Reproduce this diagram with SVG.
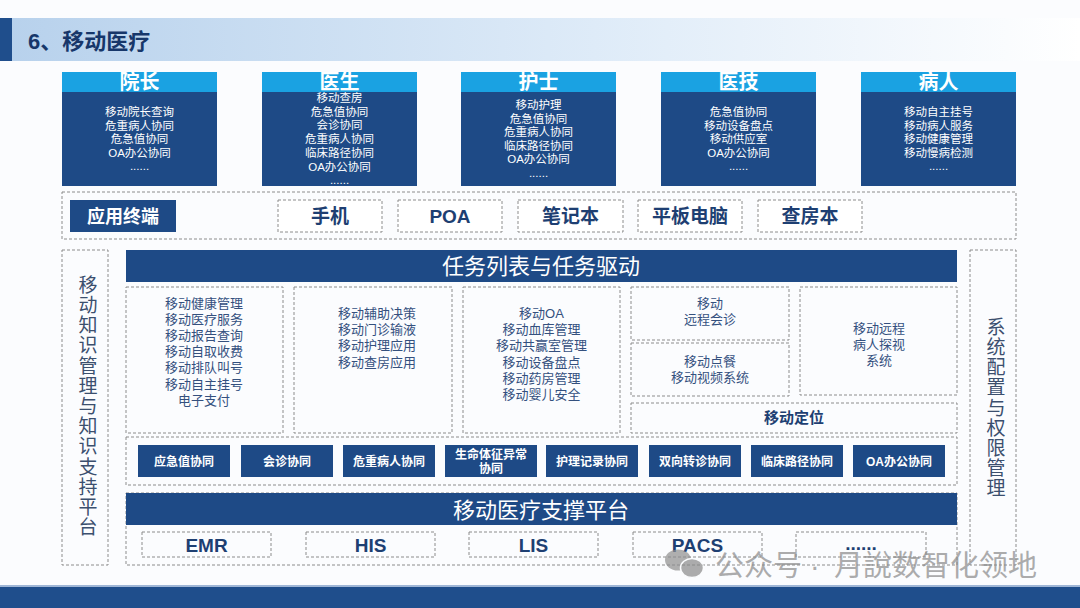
<svg xmlns="http://www.w3.org/2000/svg" width="1080" height="608" viewBox="0 0 1080 608">
<defs>
<linearGradient id="hdr" x1="0" y1="0" x2="1" y2="0">
<stop offset="0" stop-color="#b7d1ec"/>
<stop offset="0.55" stop-color="#deebf8"/>
<stop offset="1" stop-color="#ffffff"/>
</linearGradient>
</defs>
<style>
text{font-family:"Liberation Sans","Noto Sans CJK SC",sans-serif;}
.dash{fill:none;stroke:#8c8c8c;stroke-width:1;stroke-dasharray:3 2;}
.dashw{fill:#ffffff;stroke:#8c8c8c;stroke-width:1;stroke-dasharray:3 2;}
.navy{fill:#1e4a86;}
.cyan{fill:#1aa2e2;}
.role{fill:#ffffff;font-size:20px;font-weight:700;text-anchor:middle;}
.rl{fill:#ffffff;font-size:11.5px;text-anchor:middle;}
.term{fill:#1e3f72;font-size:19px;font-weight:700;text-anchor:middle;}
.mod{fill:#34507e;font-size:13px;text-anchor:middle;}
.ban{fill:#ffffff;font-size:22px;text-anchor:middle;}
.btn{fill:#ffffff;font-size:12px;font-weight:700;text-anchor:middle;}
.vert{fill:#3b4f6e;font-size:19px;writing-mode:vertical-rl;letter-spacing:1.2px;}
.sys{fill:#1e3f72;font-size:19px;font-weight:700;text-anchor:middle;}
</style>
<rect x="0" y="0" width="1080" height="608" fill="#fbfcfe"/>
<!-- header -->
<rect x="0" y="18" width="1080" height="43" fill="url(#hdr)"/>
<rect x="0" y="18" width="12" height="43" fill="#1f4e8c"/>
<text x="28" y="49" font-size="22" font-weight="700" fill="#17376a">6、移动医疗</text>
<!-- footer -->
<rect x="0" y="585" width="1080" height="2" fill="#9fb6d6"/>
<rect x="0" y="587" width="1080" height="21" fill="#1f4e8c"/>

<g id="role-yuanzhang">
<rect x="62" y="72" width="155" height="114" class="navy"/>
<rect x="62" y="72" width="155" height="20" class="cyan"/>
<text x="139.5" y="89" class="role">院长</text>
<text x="139.5" y="116" class="rl">移动院长查询</text>
<text x="139.5" y="129.5" class="rl">危重病人协同</text>
<text x="139.5" y="143" class="rl">危急值协同</text>
<text x="139.5" y="156.5" class="rl">OA办公协同</text>
<text x="139.5" y="170" class="rl">......</text>
</g>
<g id="role-yisheng">
<rect x="262" y="72" width="155" height="114" class="navy"/>
<rect x="262" y="72" width="155" height="20" class="cyan"/>
<text x="339.5" y="89" class="role">医生</text>
<text x="339.5" y="102" class="rl">移动查房</text>
<text x="339.5" y="115.7" class="rl">危急值协同</text>
<text x="339.5" y="129.4" class="rl">会诊协同</text>
<text x="339.5" y="143.1" class="rl">危重病人协同</text>
<text x="339.5" y="156.8" class="rl">临床路径协同</text>
<text x="339.5" y="170.5" class="rl">OA办公协同</text>
<text x="339.5" y="184" class="rl">......</text>
</g>
<g id="role-hushi">
<rect x="461" y="72" width="155" height="114" class="navy"/>
<rect x="461" y="72" width="155" height="20" class="cyan"/>
<text x="538.5" y="89" class="role">护士</text>
<text x="538.5" y="109" class="rl">移动护理</text>
<text x="538.5" y="122.5" class="rl">危急值协同</text>
<text x="538.5" y="136" class="rl">危重病人协同</text>
<text x="538.5" y="149.5" class="rl">临床路径协同</text>
<text x="538.5" y="163" class="rl">OA办公协同</text>
<text x="538.5" y="176.5" class="rl">......</text>
</g>
<g id="role-yiji">
<rect x="661" y="72" width="155" height="114" class="navy"/>
<rect x="661" y="72" width="155" height="20" class="cyan"/>
<text x="738.5" y="89" class="role">医技</text>
<text x="738.5" y="116" class="rl">危急值协同</text>
<text x="738.5" y="129.5" class="rl">移动设备盘点</text>
<text x="738.5" y="143" class="rl">移动供应室</text>
<text x="738.5" y="156.5" class="rl">OA办公协同</text>
<text x="738.5" y="170" class="rl">......</text>
</g>
<g id="role-bingren">
<rect x="861" y="72" width="155" height="114" class="navy"/>
<rect x="861" y="72" width="155" height="20" class="cyan"/>
<text x="938.5" y="89" class="role">病人</text>
<text x="938.5" y="116" class="rl">移动自主挂号</text>
<text x="938.5" y="129.5" class="rl">移动病人服务</text>
<text x="938.5" y="143" class="rl">移动健康管理</text>
<text x="938.5" y="156.5" class="rl">移动慢病检测</text>
<text x="938.5" y="170" class="rl">......</text>
</g>

<g id="terminals">
<rect x="62" y="192" width="954" height="47" class="dash"/>
<rect x="70" y="200" width="106" height="32" class="navy"/>
<text x="123" y="223" font-size="18" font-weight="700" fill="#ffffff" text-anchor="middle">应用终端</text>
<rect x="278" y="200" width="104" height="32" class="dashw"/>
<text x="330" y="223" class="term">手机</text>
<rect x="398" y="200" width="104" height="32" class="dashw"/>
<text x="450" y="223" class="term">POA</text>
<rect x="518" y="200" width="105" height="32" class="dashw"/>
<text x="570.5" y="223" class="term">笔记本</text>
<rect x="638" y="200" width="104" height="32" class="dashw"/>
<text x="690" y="223" class="term">平板电脑</text>
<rect x="758" y="200" width="104" height="32" class="dashw"/>
<text x="810" y="223" class="term">查房本</text>
</g>

<g id="knowledge-platform">
<rect x="62" y="250" width="46" height="315" class="dash"/>
<text x="86" y="275" class="vert">移动知识管理与知识支持平台</text>
</g>
<g id="system-config">
<rect x="970" y="250" width="46" height="315" class="dash"/>
<text x="994" y="317" class="vert">系统配置与权限管理</text>
</g>

<g id="task-banner">
<rect x="126" y="250" width="831" height="32" class="navy"/>
<text x="541" y="274" class="ban">任务列表与任务驱动</text>
</g>

<g id="mod1">
<rect x="126" y="287" width="157" height="146" class="dash"/>
<text x="204" y="307.5" class="mod">移动健康管理</text>
<text x="204" y="323.7" class="mod">移动医疗服务</text>
<text x="204" y="339.9" class="mod">移动报告查询</text>
<text x="204" y="356.1" class="mod">移动自取收费</text>
<text x="204" y="372.3" class="mod">移动排队叫号</text>
<text x="204" y="388.5" class="mod">移动自主挂号</text>
<text x="204" y="404.7" class="mod">电子支付</text>
</g>
<g id="mod2">
<rect x="294" y="287" width="158" height="146" class="dash"/>
<text x="377" y="318" class="mod">移动辅助决策</text>
<text x="377" y="334.2" class="mod">移动门诊输液</text>
<text x="377" y="350.4" class="mod">移动护理应用</text>
<text x="377" y="366.6" class="mod">移动查房应用</text>
</g>
<g id="mod3">
<rect x="463" y="287" width="157" height="146" class="dash"/>
<text x="541.5" y="318" class="mod">移动OA</text>
<text x="541.5" y="334.2" class="mod">移动血库管理</text>
<text x="541.5" y="350.4" class="mod">移动共赢室管理</text>
<text x="541.5" y="366.6" class="mod">移动设备盘点</text>
<text x="541.5" y="382.8" class="mod">移动药房管理</text>
<text x="541.5" y="399" class="mod">移动婴儿安全</text>
</g>
<g id="mod4a">
<rect x="631" y="287" width="158" height="53" class="dash"/>
<text x="710" y="307.5" class="mod">移动</text>
<text x="710" y="323.7" class="mod">远程会诊</text>
</g>
<g id="mod4b">
<rect x="631" y="343" width="158" height="53" class="dash"/>
<text x="710" y="366" class="mod">移动点餐</text>
<text x="710" y="382.2" class="mod">移动视频系统</text>
</g>
<g id="mod5">
<rect x="800" y="287" width="157" height="108" class="dash"/>
<text x="879" y="333" class="mod">移动远程</text>
<text x="879" y="349.2" class="mod">病人探视</text>
<text x="879" y="365.4" class="mod">系统</text>
</g>
<g id="mod-locate">
<rect x="631" y="403" width="326" height="30" class="dash"/>
<text x="794" y="423" font-size="15" font-weight="700" fill="#1e3f72" text-anchor="middle">移动定位</text>
</g>

<g id="collab">
<rect x="126" y="437" width="831" height="48" class="dash"/>
<rect x="138" y="445" width="92" height="32" class="navy"/>
<text x="184" y="465.5" class="btn">应急值协同</text>
<rect x="241" y="445" width="92" height="32" class="navy"/>
<text x="287" y="465.5" class="btn">会诊协同</text>
<rect x="343" y="445" width="92" height="32" class="navy"/>
<text x="389" y="465.5" class="btn">危重病人协同</text>
<rect x="445" y="445" width="92" height="32" class="navy"/>
<text x="491" y="459" class="btn">生命体征异常</text>
<text x="491" y="473" class="btn">协同</text>
<rect x="546" y="445" width="92" height="32" class="navy"/>
<text x="592" y="465.5" class="btn">护理记录协同</text>
<rect x="649" y="445" width="92" height="32" class="navy"/>
<text x="695" y="465.5" class="btn">双向转诊协同</text>
<rect x="751" y="445" width="92" height="32" class="navy"/>
<text x="797" y="465.5" class="btn">临床路径协同</text>
<rect x="853" y="445" width="92" height="32" class="navy"/>
<text x="899" y="465.5" class="btn">OA办公协同</text>
</g>

<g id="support-platform">
<rect x="126" y="493" width="831" height="72" class="dash"/>
<rect x="126" y="493" width="831" height="32" class="navy"/>
<text x="541" y="518" class="ban">移动医疗支撑平台</text>
<rect x="142" y="532" width="129" height="25" class="dash"/>
<text x="206.5" y="552" class="sys">EMR</text>
<rect x="306" y="532" width="129" height="25" class="dash"/>
<text x="370.5" y="552" class="sys">HIS</text>
<rect x="469" y="532" width="129" height="25" class="dash"/>
<text x="533.5" y="552" class="sys">LIS</text>
<rect x="633" y="532" width="129" height="25" class="dash"/>
<text x="697.5" y="552" class="sys">PACS</text>
<rect x="796" y="532" width="130" height="25" class="dash"/>
<text x="861" y="550" class="sys">......</text>
</g>

<g id="watermark" opacity="0.7">
<ellipse cx="678" cy="560" rx="13" ry="10.5" fill="#8f8f8f"/>
<ellipse cx="692" cy="568" rx="11.5" ry="9.5" fill="#8a8a8a" stroke="#fbfcfe" stroke-width="1.5"/>
<text font-size="29" fill="#8a8a8a"><tspan x="715" y="576">公众号</tspan><tspan x="810" y="576">·</tspan><tspan x="834" y="576">月說数智化领地</tspan></text>
</g>
</svg>
